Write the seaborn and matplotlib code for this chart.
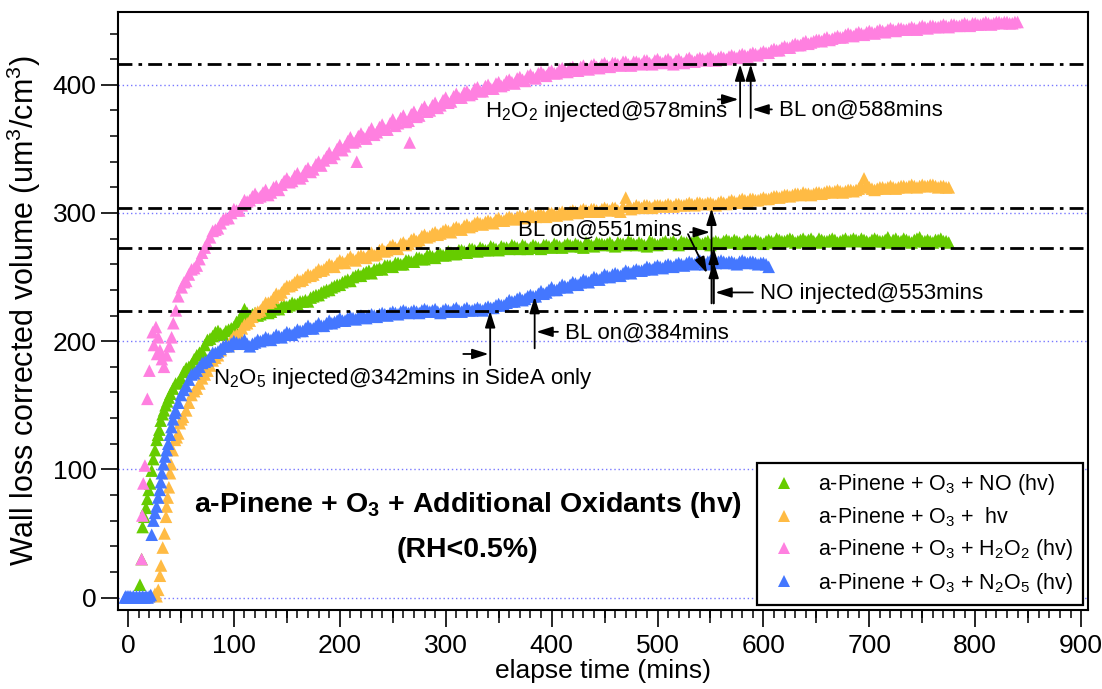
import numpy as np
import pandas as pd
import matplotlib
matplotlib.use("Agg")
import matplotlib.pyplot as plt
from matplotlib.lines import Line2D
from matplotlib.ticker import MultipleLocator
import seaborn as sns

# ------------------------------------------------------------------ data
SERIES = ["NO", "hv", "H2O2", "N2O5"]
LABELS = [
    "a-Pinene + O$_3$ + NO (hv)",
    "a-Pinene + O$_3$ +  hv",
    "a-Pinene + O$_3$ + H$_2$O$_2$ (hv)",
    "a-Pinene + O$_3$ + N$_2$O$_5$ (hv)",
]
COLORS = ["#66cc00", "#ffbb44", "#ff80e0", "#4477ff"]

# --- a-Pinene + O3 + NO (hv)
no_early_t = [11.3, 12.9, 13.8, 15.5, 17, 18.3, 19.5, 20.8, 22.4, 23.9, 25.5, 27,
              28.3, 29.6, 30.9, 32.7, 34, 35.5, 37, 38.5]
no_early_v = [10, 30, 55, 63, 70, 77, 84, 89, 99, 108, 115, 123, 127, 131, 138, 143,
              146, 150, 153, 156]
no_grid_start, no_grid_step = 40, 5
no_grid_v = [
    159, 167, 171, 179, 182, 189, 192, 201, 204, 208, 205, 209,
    211, 217, 225, 220, 222, 221, 224, 223, 226, 227, 227, 230, 229, 231, 231, 235, 236, 239, 240, 243,
    244, 247, 247, 251, 251, 254, 253, 256, 256, 259, 258, 261, 260, 263, 262, 265, 264, 267, 265, 268,
    267, 269, 268, 271, 269, 272, 270, 272, 271, 273, 271, 273, 272, 274, 272, 274, 273, 274, 272, 275,
    273, 275, 273, 276, 274, 275, 273, 276, 274, 276, 275, 277, 274, 276, 275, 277, 275, 276, 274, 277,
    275, 277, 276, 278, 275, 277, 276, 278, 276, 277, 275, 278, 276, 279, 277, 278, 276, 279, 277, 278,
    276, 279, 277, 279, 278, 280, 277, 279, 278, 280, 277, 279, 278, 280, 277, 279, 278, 280, 278, 279,
    277, 280, 278, 279, 277, 280, 278, 279, 277, 280, 278, 279, 277, 279, 278, 277,
]
# readings half-way between the grid samples (42.5, 47.5, ...)
no_mid_v = [
    163, 168, 176, 180, 186, 191, 197, 202, 207, 206, 208, 210,
    215, 220, 222, 221, 220, 223, 222, 225, 225, 228, 228, 229, 231, 232, 234, 236, 238, 240, 242, 244,
    246, 248, 250, 252, 253, 255, 256, 257, 259, 259, 261, 260, 263, 262, 265, 264, 267, 266, 268, 267,
    270, 268, 271, 270, 272, 271, 273, 271, 274, 272, 274, 273, 275, 273, 275, 272, 275, 273, 275, 274,
    276, 274, 275, 275, 276, 274, 277, 275, 277, 276, 276, 275, 277, 276, 278, 276, 277, 275, 278, 276,
    276, 278, 277, 276, 278, 277, 277, 279, 276, 278, 277, 277, 278, 278, 279, 277, 278, 278, 279, 277,
    278, 278, 280, 278, 279, 279, 278, 280, 279, 278, 280, 278, 279, 279, 278, 280, 279, 279, 280, 278,
    279, 279, 278, 281, 279, 278, 280, 278, 279, 281, 278, 278, 279, 280, 278,
]

# --- a-Pinene + O3 + hv
hv_early_t = [25.5, 27, 28.6, 30.2, 31.2, 32.8, 34.5, 35.9, 36.5, 37.5, 38.6, 39.7,
              40.6, 42.2, 44.4, 46, 47.5, 49, 50.5, 52]
hv_early_v = [3, 1, 6, 17, 25, 39, 50, 63, 71, 78, 86, 97, 104, 115, 123, 125, 128,
              136, 139, 141]
hv_grid_start, hv_grid_step = 55, 5
hv_grid_v = [
    146, 158, 163, 171, 177, 185, 189, 196, 197, 204,
    206, 213, 216, 222, 224, 230, 231, 237, 238, 243, 244, 248, 248, 252, 252, 256, 256, 260, 258, 263,
    261, 266, 263, 267, 265, 269, 268, 272, 271, 275, 272, 277, 276, 280, 279, 283, 282, 285, 284, 287,
    285, 289, 287, 291, 290, 293, 291, 294, 292, 296, 294, 297, 295, 298, 296, 299, 297, 299, 297, 300,
    298, 301, 299, 302, 300, 303, 301, 303, 301, 304, 302, 304, 301, 312, 303, 306, 304, 306, 304, 306,
    305, 307, 305, 307, 306, 308, 306, 308, 307, 308, 306, 309, 307, 310, 308, 311, 309, 311, 310, 312,
    311, 313, 312, 314, 313, 315, 314, 315, 314, 316, 315, 317, 316, 318, 316, 318, 317, 319, 327, 320,
    318, 320, 319, 321, 319, 321, 320, 322, 320, 322, 321, 322, 320, 321, 320,
]
hv_mid_v = [
    152, 161, 167, 174, 181, 187, 193, 196, 201, 205,
    210, 214, 219, 223, 227, 230, 234, 236, 241, 243, 246, 247, 250, 251, 254, 255, 258, 259, 261, 262,
    264, 264, 266, 266, 268, 267, 271, 270, 274, 273, 276, 275, 279, 278, 282, 281, 284, 283, 286, 286,
    288, 288, 290, 289, 292, 292, 293, 293, 295, 294, 296, 296, 297, 297, 298, 298, 299, 298, 300, 299,
    300, 300, 301, 301, 302, 302, 303, 302, 303, 303, 304, 302, 305, 305, 304, 305, 306, 305, 306, 306,
    306, 306, 307, 306, 307, 307, 308, 307, 308, 307, 308, 308, 309, 309, 310, 310, 311, 310, 311, 311,
    312, 313, 313, 314, 314, 315, 316, 315, 315, 316, 316, 317, 317, 317, 317, 318, 318, 321, 322, 319,
    319, 320, 320, 320, 320, 321, 321, 321, 321, 321, 322, 321, 321, 320,
]

# --- a-Pinene + O3 + H2O2 (hv)
h2o2_early_t = [12.9, 13.5, 14.5, 16, 18.3, 20.2, 23.3, 24.5, 26.4, 27.5, 28.6, 30.2,
                32, 34, 36.5, 39, 41.2, 42.8, 45.3, 47.5, 50.7, 53]
h2o2_early_v = [30, 64, 89, 103, 155, 177, 207, 197, 211, 190, 203, 193, 186, 180,
                189, 196, 203, 214, 224, 235, 242, 246]
h2o2_grid_start, h2o2_grid_step = 55, 5
h2o2_grid_v = [
    247, 256, 259, 269, 276, 286, 288, 295, 296, 303,
    302, 310, 310, 315, 313, 318, 316, 321, 322, 327, 325, 331, 329, 335, 334, 340, 341, 347, 346, 353,
    352, 359, 356, 362, 358, 366, 363, 369, 365, 373, 370, 376, 372, 379, 376, 383, 380, 386, 384, 390,
    387, 393, 390, 395, 393, 398, 395, 400, 397, 402, 400, 404, 401, 406, 403, 408, 405, 410, 407, 411,
    409, 413, 410, 414, 411, 415, 412, 416, 413, 417, 414, 417, 415, 418, 415, 418, 416, 419, 416, 420,
    417, 420, 416, 420, 417, 421, 418, 421, 419, 422, 419, 422, 420, 423, 421, 424, 422, 425, 423, 426,
    425, 428, 427, 430, 429, 432, 431, 434, 433, 435, 434, 437, 436, 438, 437, 440, 438, 441, 439, 442,
    440, 443, 441, 444, 442, 444, 443, 445, 443, 446, 444, 446, 445, 447, 445, 447, 446, 448, 446, 448,
    447, 449, 447, 449, 448, 449, 448, 449,
]
h2o2_mid_v = [
    252, 257, 264, 273, 281, 287, 292, 296, 300, 302,
    306, 309, 313, 312, 316, 314, 320, 318, 325, 324, 329, 327, 333, 332, 338, 337, 344, 343, 350, 349,
    356, 355, 360, 359, 363, 361, 367, 365, 370, 368, 374, 371, 377, 375, 381, 379, 384, 382, 388, 386,
    391, 390, 394, 392, 397, 395, 399, 397, 401, 399, 403, 402, 405, 404, 407, 406, 409, 408, 410, 409,
    412, 411, 413, 412, 414, 413, 415, 414, 416, 415, 417, 416, 418, 416, 418, 417, 419, 417, 419, 418,
    419, 418, 419, 418, 420, 419, 420, 420, 421, 420, 421, 421, 422, 422, 423, 423, 424, 424, 425, 425,
    427, 427, 429, 429, 431, 431, 433, 432, 434, 435, 436, 435, 437, 437, 439, 439, 440, 440, 441, 441,
    442, 442, 443, 443, 444, 443, 444, 444, 445, 445, 446, 445, 446, 446, 447, 446, 447, 447, 448, 447,
    448, 448, 448, 449, 449, 448, 449,
]
h2o2_outlier_t = [216, 266]
h2o2_outlier_v = [340, 355]

# --- a-Pinene + O3 + N2O5 (hv)
n2o5_early_t = [-3, -2, -1, 0, 1, 2, 3.5, 5, 6.5, 8, 9.5, 11, 12.5, 14, 15.5, 17, 18.5,
                20, 21.5, 22.4, 24, 25.5, 27, 28.5, 30, 31, 32, 33.5, 35, 36.5, 38,
                39.5, 41, 42.5, 44]
n2o5_early_v = [0, 1, 0, 1, 0, 1, 0, 1, 0, 1, 0, 1, 0, 1, 0, 1, 0, 1, 2, 49, 60, 66,
                71, 78, 84, 90, 97, 104, 110, 115, 120, 127, 133, 139, 144]
n2o5_grid_start, n2o5_grid_step = 45, 5
n2o5_grid_v = [
    146, 158, 165, 174, 177, 183, 185, 191, 192, 196, 196, 200,
    198, 201, 196, 199, 200, 203, 201, 205, 203, 207, 205, 209, 208, 212, 210, 214, 212, 216, 215, 218,
    216, 219, 217, 220, 218, 221, 219, 222, 220, 223, 221, 224, 222, 224, 222, 225, 223, 225, 222, 225,
    223, 226, 223, 226, 224, 226, 224, 227, 226, 229, 228, 232, 231, 234, 233, 236, 235, 239, 238, 242,
    240, 244, 242, 246, 244, 248, 246, 250, 248, 252, 250, 253, 251, 255, 253, 256, 255, 258, 256, 259,
    257, 260, 258, 261, 259, 262, 260, 263, 260, 263, 261, 263, 261, 262, 260, 263, 261, 262, 260, 261,
    258,
]
n2o5_mid_v = [
    152, 162, 170, 175, 180, 184, 188, 191, 194, 197, 198, 199,
    199, 198, 198, 201, 201, 202, 203, 204, 205, 206, 207, 208, 210, 210, 212, 212, 214, 214, 216, 216,
    218, 218, 219, 219, 220, 220, 221, 221, 222, 222, 223, 223, 223, 223, 224, 224, 224, 223, 224, 224,
    225, 224, 225, 224, 225, 225, 226, 226, 228, 228, 230, 231, 233, 232, 235, 235, 237, 237, 240, 240,
    242, 243, 244, 245, 246, 247, 248, 249, 250, 251, 252, 252, 253, 254, 255, 255, 256, 257, 258, 258,
    259, 259, 260, 260, 261, 261, 262, 262, 262, 262, 262, 262, 262, 261, 262, 262, 262, 261, 261, 260,
]

# reference levels (dash-dot lines)
REF_LEVELS = [416, 303.5, 273, 223.5]
GRID_LEVELS = [0, 100, 200, 300, 400]


def series_frame(name, early_t, early_v, start, step, grid_v, mid_v,
                 extra_t=(), extra_v=()):
    t = (list(early_t)
         + [start + step * i for i in range(len(grid_v))]
         + [start + step * (i + 0.5) for i in range(len(mid_v))]
         + list(extra_t))
    v = list(early_v) + list(grid_v) + list(mid_v) + list(extra_v)
    d = pd.DataFrame({"time": t, "volume": v, "series": name})
    return d.sort_values("time", kind="stable")


df = pd.concat([
    series_frame("NO", no_early_t, no_early_v, no_grid_start, no_grid_step,
                 no_grid_v, no_mid_v),
    series_frame("hv", hv_early_t, hv_early_v, hv_grid_start, hv_grid_step,
                 hv_grid_v, hv_mid_v),
    series_frame("H2O2", h2o2_early_t, h2o2_early_v, h2o2_grid_start, h2o2_grid_step,
                 h2o2_grid_v, h2o2_mid_v, h2o2_outlier_t, h2o2_outlier_v),
    series_frame("N2O5", n2o5_early_t, n2o5_early_v, n2o5_grid_start, n2o5_grid_step,
                 n2o5_grid_v, n2o5_mid_v),
], ignore_index=True)

# ------------------------------------------------------------------ style
sns.set_style("ticks")
plt.rcParams["font.family"] = ["Liberation Sans", "DejaVu Sans"]
plt.rcParams["mathtext.fontset"] = "custom"
plt.rcParams["mathtext.rm"] = "Liberation Sans"
plt.rcParams["mathtext.it"] = "Liberation Sans:italic"
plt.rcParams["mathtext.bf"] = "Liberation Sans:bold"
for key in ["text.color", "axes.labelcolor", "xtick.color", "ytick.color",
            "axes.edgecolor"]:
    plt.rcParams[key] = "black"

fig = plt.figure(figsize=(11.02, 6.89), dpi=100)
ax = fig.add_axes([0.1071, 0.1146, 0.8802, 0.868])

for y in GRID_LEVELS:
    ax.axhline(y, color="#7878ff", lw=1.0, ls=(0, (1, 2)), zorder=0.5)

sns.scatterplot(data=df, x="time", y="volume", hue="series", hue_order=SERIES,
                palette=COLORS, marker="^", s=82, linewidth=0, legend=False,
                ax=ax, zorder=2)

for y in REF_LEVELS:
    ax.axhline(y, color="black", lw=2.0, ls=(0, (5, 2.2, 1.3, 2.2)), zorder=3)

ax.set_xlim(-9.4, 906.5)
ax.set_ylim(-9.75, 456.8)
ax.set_xticks(np.arange(0, 901, 100))
ax.set_yticks(np.arange(0, 401, 100))
ax.xaxis.set_minor_locator(MultipleLocator(10))
ax.yaxis.set_minor_locator(MultipleLocator(20))
ax.tick_params(axis="both", which="major", direction="out", length=12, width=1.2,
               labelsize=19, colors="black")
ax.tick_params(axis="both", which="minor", direction="out", length=6, width=1.1,
               colors="black")
ax.tick_params(axis="x", which="major", pad=5)
for sp in ax.spines.values():
    sp.set_linewidth(1.5)
    sp.set_color("black")

sec = ax.secondary_xaxis("bottom")
sec.set_xticks(np.arange(50, 900, 100))
sec.tick_params(length=9, width=1.1, direction="out", labelbottom=False,
                colors="black")
sec.spines["bottom"].set_visible(False)

ax.set_xlabel("elapse time (mins)", fontsize=19, labelpad=1)
ax.set_ylabel("Wall loss corrected volume (um$^3$/cm$^3$)", fontsize=22, labelpad=7)

# ------------------------------------------------------------------ annotations
AP = dict(arrowstyle="-|>,head_length=0.7,head_width=0.22", color="black", lw=1.3,
          shrinkA=0, shrinkB=0, mutation_scale=14)


def arrow(x0, y0, x1, y1):
    ax.annotate("", xy=(x1, y1), xytext=(x0, y0), arrowprops=AP, zorder=4)


TXT = dict(fontsize=16, ha="left", va="center", zorder=5, color="black")

# H2O2 injection and BL on @588
arrow(578, 375, 578, 416)
arrow(588, 374, 588, 416)
arrow(557, 388.6, 576.5, 388.6)
arrow(608, 380.8, 589.5, 380.8)
ax.text(337, 379.5, "H$_2$O$_2$ injected@578mins", **TXT)
ax.text(614.7, 380, "BL on@588mins", **TXT)

# BL on @551 and NO injected @553
arrow(551, 229.5, 551, 303.5)
arrow(553, 229.5, 553, 273)
arrow(553, 229.5, 553, 262)
arrow(530.7, 285, 549.6, 285)
arrow(528.8, 283.5, 546.8, 253)
ax.text(368, 286.7, "BL on@551mins", **TXT)
arrow(590, 238, 554.5, 238)
ax.text(597, 237.5, "NO injected@553mins", **TXT)

# BL on @384
arrow(384, 194.4, 384, 234.6)
arrow(406, 207.3, 385.5, 207.3)
ax.text(412.6, 206.3, "BL on@384mins", **TXT)

# N2O5 injection
arrow(342, 181.4, 342, 223.5)
arrow(316.6, 190, 340.5, 190)
ax.text(80.3, 171.2, "N$_2$O$_5$ injected@342mins in SideA only", **TXT)

# title inside plot
ax.text(321, 72, r"a-Pinene + O$_\mathbf{3}$ + Additional Oxidants (hv)", fontsize=20.5,
        fontweight="bold", ha="center", va="center", zorder=5)
ax.text(321, 37, "(RH<0.5%)", fontsize=20.5, fontweight="bold", ha="center",
        va="center", zorder=5)

# ------------------------------------------------------------------ legend
handles = [Line2D([], [], ls="none", marker="^", markersize=9, markeredgewidth=0,
                  color=c) for c in COLORS]
leg = ax.legend(handles, LABELS, loc="lower right", bbox_to_anchor=(0.995, 0.008),
                borderaxespad=0, fontsize=15.5, frameon=True, fancybox=False,
                framealpha=1, edgecolor="black", handlelength=1.6,
                handletextpad=0.8, labelspacing=0.38, borderpad=0.45)
leg.get_frame().set_linewidth(1.6)
for t in leg.get_texts():
    t.set_color("black")
leg.set_zorder(6)

fig.savefig("out.png", dpi=100)
